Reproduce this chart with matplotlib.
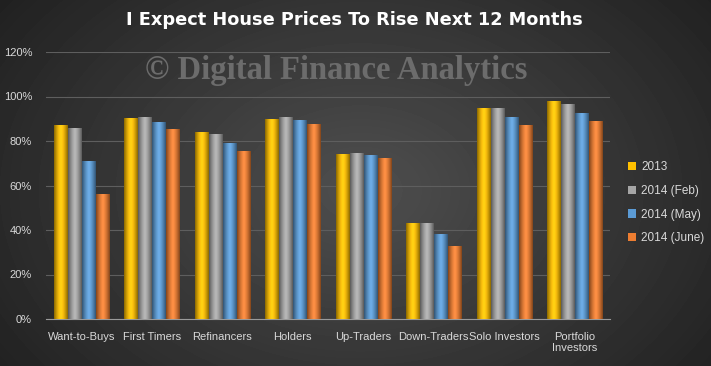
import matplotlib.pyplot as plt
import numpy as np
from matplotlib.patches import Patch
from matplotlib.colors import to_rgb

categories = ['Want-to-Buys', 'First Timers', 'Refinancers', 'Holders',
              'Up-Traders', 'Down-Traders', 'Solo Investors', 'Portfolio\nInvestors']
series_names = ['2013', '2014 (Feb)', '2014 (May)', '2014 (June)']
v2013 = [87, 90.5, 84, 90, 74, 43, 95, 98]
v2014_feb = [86, 91, 83, 91, 74.5, 43, 95, 96.5]
v2014_may = [71, 88.5, 79, 89.5, 73.5, 38, 91, 92.5]
v2014_june = [56, 85.5, 75.5, 87.5, 72.5, 33, 87, 89]
colors = ['#ffc000', '#a5a5a5', '#5b9bd5', '#ed7d31']

W, H = 711, 366
fig = plt.figure(figsize=(W / 100, H / 100), dpi=100)
font = ['Liberation Sans', 'DejaVu Sans']

# background: dark radial gradient
bg = fig.add_axes([0, 0, 1, 1], zorder=0)
yy, xx = np.mgrid[0:H, 0:W]
r = np.sqrt(((xx - 360) / 420.0) ** 2 + ((yy - 190) / 300.0) ** 2)
shade = np.clip(0.31 - 0.17 * r, 0.11, 0.31)
bg.imshow(shade, cmap='gray', vmin=0, vmax=1, aspect='auto', extent=(0, 1, 0, 1))
bg.axis('off')

ax = fig.add_axes([46 / W, 1 - 319 / H, (610 - 46) / W, (319 - 52) / H], zorder=1)
ax.set_facecolor('none')

x = np.arange(len(categories))
width = 0.185
all_series = [v2013, v2014_feb, v2014_may, v2014_june]

for i, (vals, c) in enumerate(zip(all_series, colors)):
    vals = np.array(vals) / 100.0
    bars = ax.bar(x + (i - 1.5) * 0.2, vals, width, color=c, zorder=3)
    # bevel-ish shading: darker edges, lighter middle
    base = np.array(to_rgb(c))
    prof = np.linspace(-1, 1, 40)
    fac = 1.0 - 0.45 * np.abs(prof) ** 1.5
    grad = np.clip(base[None, :] * fac[:, None] + 0.08 * (1 - np.abs(prof))[:, None], 0, 1)
    for b in bars:
        x0, y0 = b.get_x(), b.get_y()
        im = ax.imshow(grad[None, :, :], extent=(x0, x0 + b.get_width(), y0, y0 + b.get_height()),
                       aspect='auto', zorder=4, interpolation='bilinear')
        im.set_clip_path(b)

ax.set_xlim(-0.5, len(categories) - 0.5)
ax.set_ylim(0, 1.2)
ax.set_yticks(np.arange(0, 1.21, 0.2))
ax.set_yticklabels([f'{int(round(t * 100))}%' for t in np.arange(0, 1.21, 0.2)])
ax.set_xticks(x)
ax.set_xticklabels(categories)
ax.grid(axis='y', color='#5e5e5e', linewidth=0.8, zorder=0)
for s in ['top', 'right', 'left']:
    ax.spines[s].set_visible(False)
ax.spines['bottom'].set_color('#9a9a9a')
ax.tick_params(length=0, colors='#d9d9d9', labelsize=8)
ax.tick_params(axis='x', pad=9)
ax.tick_params(axis='y', pad=10)
for lab in ax.get_xticklabels() + ax.get_yticklabels():
    lab.set_family(font)

fig.text(354 / W, 1 - 20 / H, 'I Expect House Prices To Rise Next 12 Months',
         color='white', fontsize=12.8, fontweight='bold', ha='center', va='center')
fig.text(336 / W, 1 - 70 / H, '\u00a9 Digital Finance Analytics', family='Liberation Serif',
         fontweight='bold', fontsize=23.5, color='#6c6c6c', ha='center', va='center', zorder=2)

handles = [Patch(facecolor=c) for c in colors]
leg = fig.legend(handles, series_names, loc='upper left', bbox_to_anchor=(628 / W, 1 - 161 / H),
                 frameon=False, fontsize=8.5, handlelength=0.7, handleheight=0.7,
                 handletextpad=0.4, labelspacing=1.0, borderpad=0, borderaxespad=0)
for t in leg.get_texts():
    t.set_color('#d9d9d9')
    t.set_family(font)

fig.savefig('out.png', dpi=100)
